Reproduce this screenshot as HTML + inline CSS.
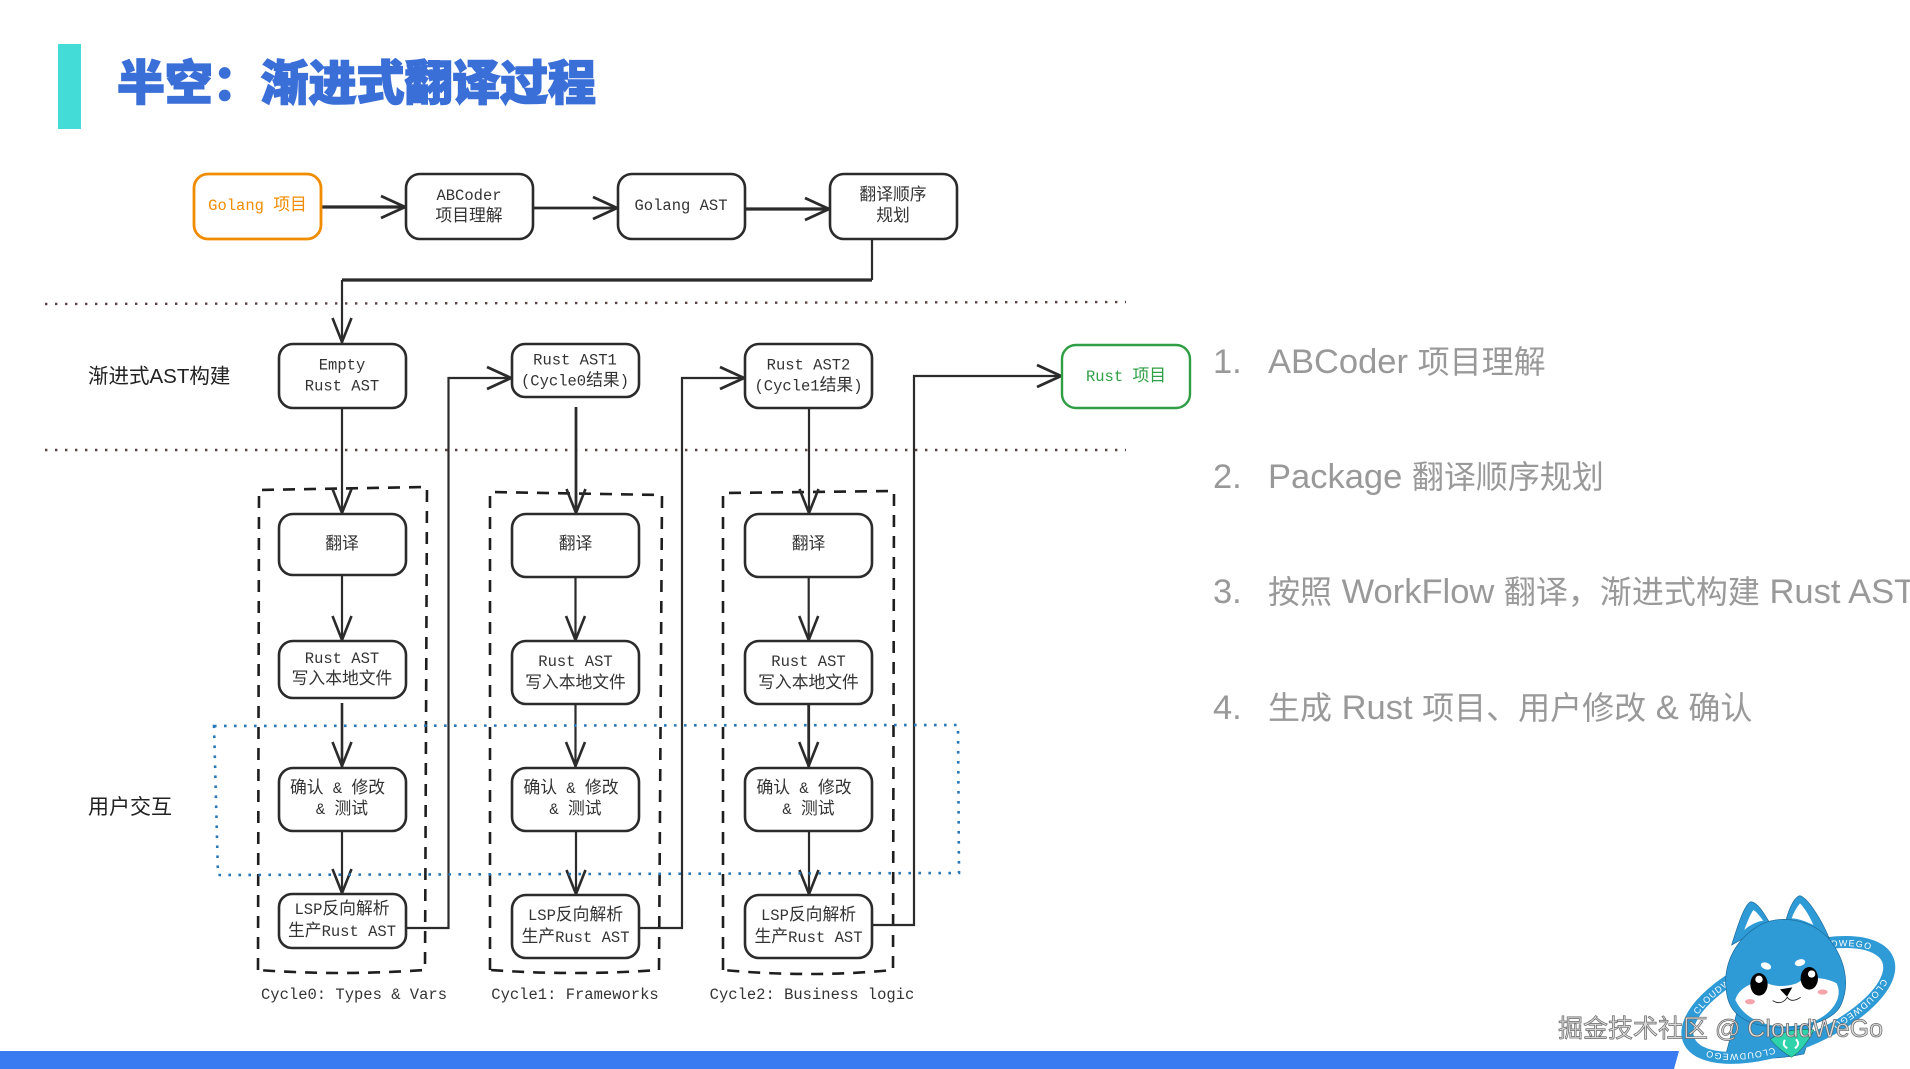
<!DOCTYPE html>
<html lang="zh"><head><meta charset="utf-8"><title>半空：渐进式翻译过程</title>
<style>
html,body{margin:0;padding:0;background:#fff;width:1910px;height:1069px;overflow:hidden}
svg{display:block}
.t{font-family:"Liberation Mono","Noto Sans CJK SC",monospace;font-size:15.5px;fill:#333;text-anchor:middle;white-space:pre}
.t .c{font-family:"Noto Sans CJK SC",sans-serif;font-size:16.8px}
.b{fill:#fff;stroke:#2b2b2b;stroke-width:2.6}
.l{fill:none;stroke:#2b2b2b;stroke-width:2.2;marker-end:url(#a)}
.h{fill:none;stroke:#2b2b2b;stroke-width:2.2;marker-end:url(#ah)}
.d{fill:none;stroke:#1e1e1e;stroke-width:2.6;stroke-dasharray:12 9}
.list{font-family:"Liberation Sans","Noto Sans CJK SC",sans-serif;font-size:34.5px;fill:#999;white-space:pre}
.list .z{font-family:"Noto Sans CJK SC",sans-serif;font-size:32px}
.lab{font-family:"Liberation Sans","Noto Sans CJK SC",sans-serif;font-size:20.5px;fill:#222}
</style></head><body>
<svg width="1910" height="1069" viewBox="0 0 1910 1069" xmlns="http://www.w3.org/2000/svg">
<defs>
<marker id="a" markerUnits="userSpaceOnUse" viewBox="-28 -14 31 28" refX="0" refY="0" markerWidth="31" markerHeight="28" orient="auto">
<path d="M-25,-9.5 L-1,0 L-25,9.5" fill="none" stroke="#2b2b2b" stroke-width="2.6"/>
</marker>
<marker id="ah" markerUnits="userSpaceOnUse" viewBox="-28 -14 31 28" refX="0" refY="0" markerWidth="31" markerHeight="28" orient="auto">
<path d="M-25,-11 L-1,0 L-25,11" fill="none" stroke="#2b2b2b" stroke-width="2.8"/>
</marker>
<path id="rp" d="M-308,0 A308,122 0 1,1 308,0 A308,122 0 1,1 -308,0"/>
</defs>
<rect width="1910" height="1069" fill="#fff"/>
<rect x="58" y="44" width="23" height="85" fill="#44dcd6"/>
<text x="117" y="100" font-family="'Noto Sans CJK SC',sans-serif" font-weight="900" font-size="47.9" fill="#3a6fd8" stroke="#3a6fd8" stroke-width="1.6">半空：渐进式翻译过程</text>

<!-- separators -->
<path d="M45,304 L1126,302" fill="none" stroke="#5a4444" stroke-width="2.4" stroke-dasharray="2.4 7.6"/>
<path d="M45,450 L1126,450" fill="none" stroke="#5a4444" stroke-width="2.4" stroke-dasharray="2.4 7.6"/>

<!-- dashed cycle boxes -->
<path class="d" d="M258,970 L259,490 L427,487 L425,970 Q340,976 258,970Z"/>
<path class="d" d="M490,970 L490,492 L662,495 L659,970 Q575,976 490,970Z"/>
<path class="d" d="M723,970 L723,493 L894,491 L893,970 Q810,978 723,970Z"/>

<!-- connectors -->
<path class="h" style="stroke-width:3.2" d="M321,207 L406,207"/>
<path class="h" style="stroke-width:2.8" d="M532,208 L618,208"/>
<path class="h" style="stroke-width:3.2" d="M744,209 L830,209"/>
<path class="p" fill="none" stroke="#2b2b2b" stroke-width="2.2" d="M872,239 L872,280"/>
<path fill="none" stroke="#2b2b2b" stroke-width="3.2" d="M872,280 L342,280"/>
<path class="l" d="M342,280 L342,343"/>
<path class="l" d="M342,408 L342,514"/>
<path class="l" style="stroke-width:2.8" d="M576,407 L576,514"/>
<path class="l" d="M809,408 L809,514"/>
<path class="l" d="M342,575 L342,641"/>
<path class="l" d="M575.5,577 L575.5,641"/>
<path class="l" d="M808.7,577 L808.7,641"/>
<path class="l" style="stroke-width:2.6" d="M342,703 L342,767"/>
<path class="l" d="M575.5,704 L575.5,767"/>
<path class="l" style="stroke-width:2.8" d="M808.7,704 L808.7,767"/>
<path class="l" d="M342,831 L342,894"/>
<path class="l" d="M576,831 L576,895"/>
<path class="l" d="M809,831 L809,895"/>
<path class="h" d="M405,928 L448.5,928 L448.5,378 L512,378"/>
<path class="h" d="M639,928 L682,928 L682,378 L745,378"/>
<path class="h" d="M872,925 L914,925 L914,376 L1062,376"/>

<!-- boxes -->
<rect x="194" y="174" width="127" height="65" rx="14" fill="#fff" stroke="#f08c00" stroke-width="2.8"/>
<rect class="b" x="406" y="174" width="127" height="65" rx="14"/>
<rect class="b" x="618" y="174" width="127" height="65" rx="14"/>
<rect class="b" x="830" y="174" width="127" height="65" rx="14"/>
<rect class="b" x="279" y="344" width="127" height="64" rx="14"/>
<rect class="b" x="512" y="344" width="127" height="53" rx="13"/>
<rect class="b" x="745" y="344" width="127" height="64" rx="14"/>
<rect x="1062" y="345" width="128" height="63" rx="14" fill="#fff" stroke="#2f9e44" stroke-width="2.4"/>

<rect class="b" x="279" y="514" width="127" height="61" rx="14"/>
<rect class="b" x="279" y="641" width="127" height="57" rx="14"/>
<rect class="b" x="279" y="768" width="127" height="63" rx="14"/>
<rect class="b" x="279" y="894" width="127" height="54" rx="13"/>

<rect class="b" x="512" y="514" width="127" height="63" rx="14"/>
<rect class="b" x="512" y="641" width="127" height="63" rx="14"/>
<rect class="b" x="512" y="768" width="127" height="63" rx="14"/>
<rect class="b" x="512" y="895" width="127" height="63" rx="14"/>

<rect class="b" x="745" y="514" width="127" height="63" rx="14"/>
<rect class="b" x="745" y="641" width="127" height="63" rx="14"/>
<rect class="b" x="745" y="768" width="127" height="63" rx="14"/>
<rect class="b" x="745" y="895" width="127" height="63" rx="14"/>

<!-- blue dotted user interaction frame -->
<path d="M214,726 L958,725 L959,873 L218,875 Z" fill="none" stroke="#2a78b8" stroke-width="2.6" stroke-dasharray="2.6 7.4"/>

<!-- box text -->
<text class="t" x="257.5" y="210" style="fill:#f08c00">Golang <tspan class="c" style="fill:#f08c00">项目</tspan></text>
<text class="t" x="469" y="200">ABCoder</text>
<text class="t" x="469" y="221"><tspan class="c">项目理解</tspan></text>
<text class="t" x="681" y="210">Golang AST</text>
<text class="t" x="893" y="200"><tspan class="c">翻译顺序</tspan></text>
<text class="t" x="893" y="221"><tspan class="c">规划</tspan></text>
<text class="t" x="342" y="369.5">Empty</text>
<text class="t" x="342" y="390.5">Rust AST</text>
<text class="t" x="575" y="364.5">Rust AST1</text>
<text class="t" x="575" y="385.5">(Cycle0<tspan class="c">结果</tspan>)</text>
<text class="t" x="808.5" y="369.5">Rust AST2</text>
<text class="t" x="808.5" y="390.5">(Cycle1<tspan class="c">结果</tspan>)</text>
<text class="t" x="1126" y="381" style="fill:#2f9e44">Rust <tspan class="c" style="fill:#2f9e44">项目</tspan></text>

<text class="t" x="342" y="549"><tspan class="c">翻译</tspan></text>
<text class="t" x="342" y="663">Rust AST</text>
<text class="t" x="342" y="684"><tspan class="c">写入本地文件</tspan></text>
<text class="t" x="337.5" y="793"><tspan class="c">确认</tspan> &amp; <tspan class="c">修改</tspan></text>
<text class="t" x="342" y="814">&amp; <tspan class="c">测试</tspan></text>
<text class="t" x="342" y="914">LSP<tspan class="c">反向解析</tspan></text>
<text class="t" x="342" y="936"><tspan class="c">生产</tspan>Rust AST</text>

<text class="t" x="575.5" y="549"><tspan class="c">翻译</tspan></text>
<text class="t" x="575.5" y="666">Rust AST</text>
<text class="t" x="575.5" y="688"><tspan class="c">写入本地文件</tspan></text>
<text class="t" x="571" y="793"><tspan class="c">确认</tspan> &amp; <tspan class="c">修改</tspan></text>
<text class="t" x="575.5" y="814">&amp; <tspan class="c">测试</tspan></text>
<text class="t" x="575.5" y="920">LSP<tspan class="c">反向解析</tspan></text>
<text class="t" x="575.5" y="942"><tspan class="c">生产</tspan>Rust AST</text>

<text class="t" x="808.5" y="549"><tspan class="c">翻译</tspan></text>
<text class="t" x="808.5" y="666">Rust AST</text>
<text class="t" x="808.5" y="688"><tspan class="c">写入本地文件</tspan></text>
<text class="t" x="804" y="793"><tspan class="c">确认</tspan> &amp; <tspan class="c">修改</tspan></text>
<text class="t" x="808.5" y="814">&amp; <tspan class="c">测试</tspan></text>
<text class="t" x="808.5" y="920">LSP<tspan class="c">反向解析</tspan></text>
<text class="t" x="808.5" y="942"><tspan class="c">生产</tspan>Rust AST</text>

<text class="t" x="354" y="999">Cycle0: Types &amp; Vars</text>
<text class="t" x="575" y="999">Cycle1: Frameworks</text>
<text class="t" x="812" y="999">Cycle2: Business logic</text>

<text class="lab" x="88" y="383">渐进式AST构建</text>
<text class="lab" x="88" y="814" style="font-size:21px">用户交互</text>

<!-- right list -->
<text class="list" x="1213" y="373">1.</text>
<text class="list" x="1268" y="373">ABCoder <tspan class="z">项目理解</tspan></text>
<text class="list" x="1213" y="488">2.</text>
<text class="list" x="1268" y="488">Package <tspan class="z">翻译顺序规划</tspan></text>
<text class="list" x="1213" y="603">3.</text>
<text class="list" x="1268" y="603"><tspan class="z">按照</tspan> WorkFlow <tspan class="z">翻译，渐进式构建</tspan> Rust AST</text>
<text class="list" x="1213" y="719">4.</text>
<text class="list" x="1268" y="719"><tspan class="z">生成</tspan> Rust <tspan class="z">项目、用户修改</tspan> &amp; <tspan class="z">确认</tspan></text>

<!-- bottom bar -->
<path d="M0,1051 L1679,1051 L1674,1069 L0,1069 Z" fill="#3a7bf2"/>

<!-- mascot -->
<g transform="translate(1550,880) scale(0.3333)">
<path d="M560,400 L528,522 Q640,548 762,522 L800,400 Z" fill="#2e9ad6" stroke="#1c6a99" stroke-width="2"/>
<g transform="translate(715,360) rotate(-22)">
<ellipse cx="0" cy="0" rx="322" ry="135" fill="none" stroke="#2e9ad6" stroke-width="36"/>
<g font-family="'Liberation Sans',sans-serif" font-size="27" fill="#fff" letter-spacing="3">
<text><textPath href="#rp" startOffset="75">CLOUDWEGO</textPath></text>
<text><textPath href="#rp" startOffset="448">CLOUDWEGO</textPath></text>
<text><textPath href="#rp" startOffset="760">CLOUDWEGO</textPath></text>
<text><textPath href="#rp" startOffset="1153">CLOUDWEGO</textPath></text>
</g>
</g>
<path d="M545,195 C565,130 585,70 603,65 C625,68 645,105 660,130 Z" fill="#2e9ad6" stroke="#1c6a99" stroke-width="2"/>
<path d="M708,120 C720,75 738,48 750,47 C775,55 815,120 838,175 Z" fill="#2e9ad6" stroke="#1c6a99" stroke-width="2"/>
<path d="M610,90 C600,105 590,130 583,150 C600,135 620,125 640,122 C630,110 620,95 610,90Z" fill="#fff"/>
<path d="M750,70 C738,85 730,100 725,115 C745,115 770,125 790,135 C780,110 765,85 750,70Z" fill="#fff"/>
<path d="M530,340 C515,250 560,170 640,130 C700,105 790,120 840,180 C885,240 900,310 875,370 C860,410 800,442 700,442 C600,442 540,410 530,340 Z" fill="#2e9ad6" stroke="#1c6a99" stroke-width="2"/>
<path d="M556,360 C565,325 605,308 640,302 C665,322 705,322 740,310 C770,288 825,290 860,310 C880,350 850,400 790,425 C720,450 600,450 556,360 Z" fill="#fff"/>
<ellipse cx="648" cy="258" rx="16" ry="10" transform="rotate(20 648 258)" fill="#fff"/>
<ellipse cx="750" cy="248" rx="16" ry="10" transform="rotate(-15 750 248)" fill="#fff"/>
<ellipse cx="627" cy="313" rx="26" ry="34" fill="#000"/>
<circle cx="627" cy="298" r="11" fill="#fff"/>
<ellipse cx="778" cy="295" rx="26" ry="34" fill="#000"/>
<circle cx="785" cy="282" r="11" fill="#fff"/>
<ellipse cx="600" cy="365" rx="15" ry="8" fill="#f7a5ad"/>
<ellipse cx="818" cy="336" rx="15" ry="8" fill="#f7a5ad"/>
<path d="M690,328 L727,322 L711,350 Z" fill="#000"/>
<path d="M668,362 Q695,378 712,352 Q725,370 752,352" fill="none" stroke="#111" stroke-width="2.5"/>
<path d="M660,478 Q720,440 792,450 Q762,510 725,532 Q690,512 660,478 Z" fill="#2fd3ab" stroke="#13463c" stroke-width="1.5"/>
<path d="M705,480 Q695,495 712,505 M738,478 Q752,492 735,505" fill="none" stroke="#fff" stroke-width="6"/>
</g>

<!-- watermark -->
<text x="1558" y="1037" font-family="'Liberation Sans','Noto Sans CJK SC',sans-serif" font-size="25" fill="#dcdcdc" stroke="#666" stroke-width="0.7" style="white-space:pre">掘金技术社区 @ CloudWeGo</text>
</svg>
</body></html>
